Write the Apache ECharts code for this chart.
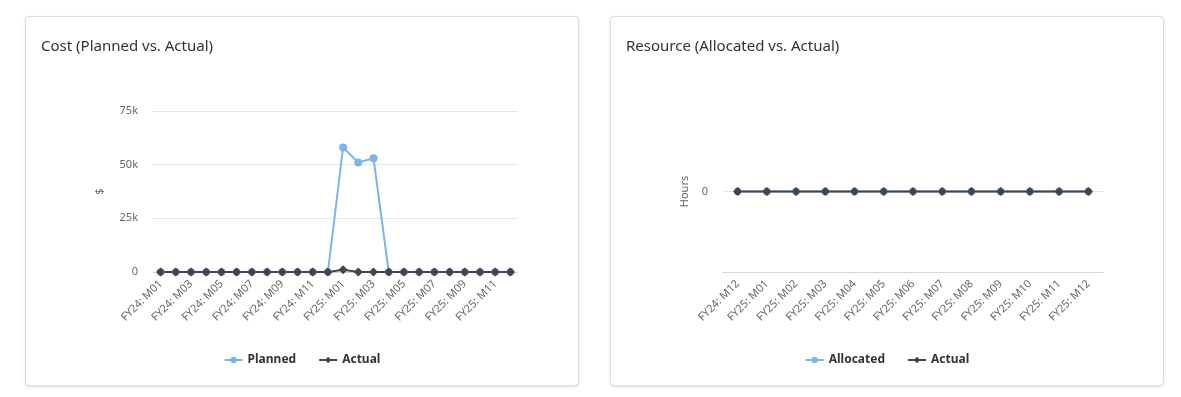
<!DOCTYPE html>
<html>
<head>
<meta charset="utf-8">
<script src="https://cdn.jsdelivr.net/npm/echarts@6/dist/echarts.min.js"></script>
<style>
  html, body { margin: 0; padding: 0; background: #fff; }
  .card {
    position: absolute; top: 16px; width: 552px; height: 368px;
    border: 1px solid #dcdcdc; border-radius: 4px; background: #fff;
    box-shadow: 0 1px 3px rgba(0,0,0,0.12);
  }
  #costCard { left: 25px; }
  #resCard { left: 610px; }
  .chart { width: 552px; height: 368px; }
</style>
</head>
<body>
<div class="card" id="costCard"><div class="chart" id="cost"></div></div>
<div class="card" id="resCard"><div class="chart" id="res"></div></div>
<script>
var costMonths = ['FY24: M01','FY24: M02','FY24: M03','FY24: M04','FY24: M05','FY24: M06',
  'FY24: M07','FY24: M08','FY24: M09','FY24: M10','FY24: M11','FY24: M12',
  'FY25: M01','FY25: M02','FY25: M03','FY25: M04','FY25: M05','FY25: M06',
  'FY25: M07','FY25: M08','FY25: M09','FY25: M10','FY25: M11','FY25: M12'];
var costPlanned = [0,0,0,0,0,0,0,0,0,0,0,0, 58000,51000,53000,0,0,0,0,0,0,0,0,0];
var costActual  = [0,0,0,0,0,0,0,0,0,0,0,0, 1100,0,0,0,0,0,0,0,0,0,0,0];

var resMonths = ['FY24: M12','FY25: M01','FY25: M02','FY25: M03','FY25: M04','FY25: M05',
  'FY25: M06','FY25: M07','FY25: M08','FY25: M09','FY25: M10','FY25: M11','FY25: M12'];
var resAllocated = [0,0,0,0,0,0,0,0,0,0,0,0,0];
var resActual    = [0,0,0,0,0,0,0,0,0,0,0,0,0];

var FONT = 'Noto Sans';
var BLUE = '#7cb5ec', DARK = '#434348';

function makeOption(title, cats, names, a, b, yAxis, labelInterval) {
  return {
    animation: false,
    textStyle: { fontFamily: FONT },
    title: {
      text: title, left: 10, top: 17,
      textStyle: { fontFamily: FONT, fontSize: 15, fontWeight: 'normal', color: '#333' }
    },
    legend: {
      bottom: 14, left: 'center', itemGap: 22, itemWidth: 18, itemHeight: 8,
      data: names,
      textStyle: { fontFamily: FONT, fontSize: 12, fontWeight: 'bold', color: '#333' }
    },
    grid: yAxis.grid,
    xAxis: {
      type: 'category', data: cats, boundaryGap: true,
      axisLine: { onZero: false, lineStyle: { color: '#ccd6eb' } },
      axisTick: { show: false },
      axisLabel: { rotate: 45, interval: labelInterval, color: '#666', fontSize: 11, fontFamily: FONT, margin: 10 }
    },
    yAxis: yAxis.axis,
    series: [
      { name: names[0], type: 'line', data: a, symbol: 'circle', symbolSize: 8,
        itemStyle: { color: BLUE }, lineStyle: { color: BLUE, width: 2 } },
      { name: names[1], type: 'line', data: b, symbol: 'diamond', symbolSize: 9,
        itemStyle: { color: DARK }, lineStyle: { color: DARK, width: 2 } }
    ]
  };
}

var costY = {
  grid: { left: 127, right: 60, top: 94, bottom: 113 },
  axis: {
    type: 'value', min: 0, max: 75000, interval: 25000,
    name: '$', nameLocation: 'middle', nameGap: 48,
    nameTextStyle: { color: '#666', fontSize: 11, fontFamily: FONT },
    axisLabel: { color: '#666', fontSize: 11, fontFamily: FONT, margin: 15,
      formatter: function (v) { return v === 0 ? '0' : (v / 1000) + 'k'; } },
    splitLine: { lineStyle: { color: '#e6e6e6' } }
  }
};

var resY = {
  grid: { left: 112, right: 60, top: 94, bottom: 113 },
  axis: {
    type: 'value', min: -1, max: 1, interval: 1,
    name: 'Hours', nameLocation: 'middle', nameGap: 33,
    nameTextStyle: { color: '#666', fontSize: 11, fontFamily: FONT },
    axisLabel: { color: '#666', fontSize: 11, fontFamily: FONT, margin: 15,
      formatter: function (v) { return v === 0 ? '0' : ''; } },
    splitLine: { lineStyle: { color: ['transparent', '#e6e6e6', 'transparent'] } }
  }
};

echarts.init(document.getElementById('cost')).setOption(
  makeOption('Cost (Planned vs. Actual)', costMonths, ['Planned', 'Actual'],
    costPlanned, costActual, costY, 1));
echarts.init(document.getElementById('res')).setOption(
  makeOption('Resource (Allocated vs. Actual)', resMonths, ['Allocated', 'Actual'],
    resAllocated, resActual, resY, 0));
</script>
</body>
</html>
